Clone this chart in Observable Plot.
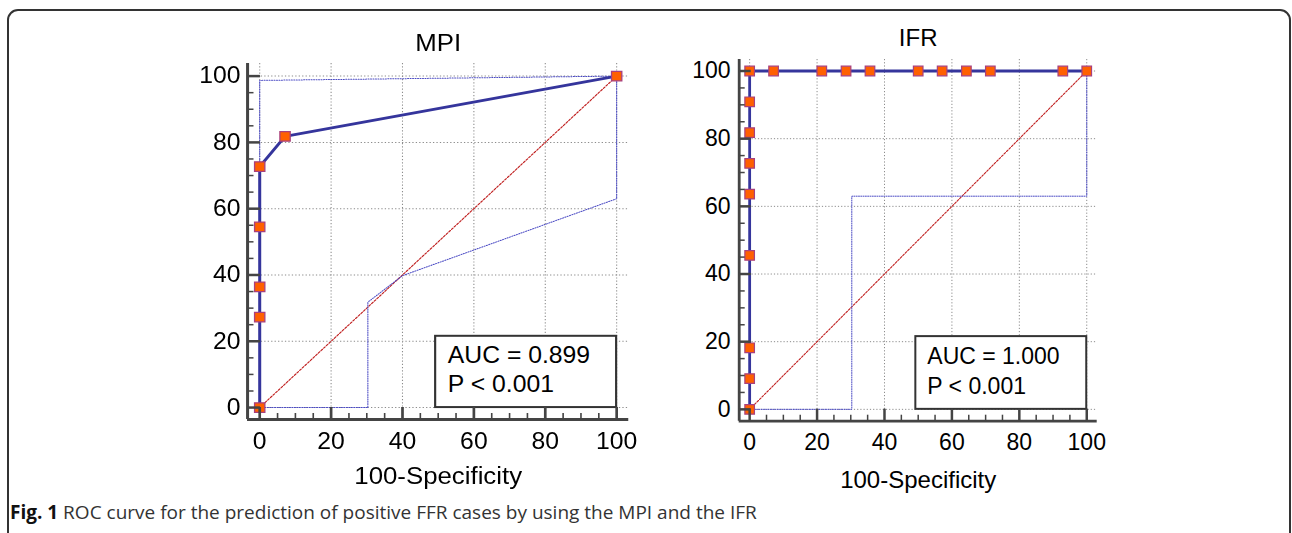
<!DOCTYPE html>
<html><head><meta charset="utf-8">
<script src="https://cdn.jsdelivr.net/npm/d3@7"></script>
<script src="https://cdn.jsdelivr.net/npm/@observablehq/plot@0.6"></script>
<style>
html,body{margin:0;padding:0;background:#fff;width:1292px;height:533px;overflow:hidden;position:relative;}
#frame{position:absolute;left:7px;top:9px;width:1284px;height:600px;border:2px solid #333;border-radius:11px;box-sizing:border-box;}
#left{position:absolute;left:180px;top:20px;transform-origin:0 0;transform:scaleX(1.076);}
#right{position:absolute;left:680px;top:15px;}
#caption{position:absolute;left:10px;top:501.6px;line-height:20px;font-family:"Open Sans",sans-serif;font-size:19px;color:#333;white-space:nowrap;}
#caption b{color:#111;}
</style></head>
<body>
<div id="frame"></div>
<div id="left"></div>
<div id="right"></div>
<div id="caption"><b>Fig. 1</b> ROC curve for the prediction of positive FFR cases by using the MPI and the IFR</div>
<script>
// ---- data ----
const majorTicks = [0, 20, 40, 60, 80, 100];
const minorTicks = [5, 10, 15, 25, 30, 35, 45, 50, 55, 65, 70, 75, 85, 90, 95];
const diagX = [0, 100];
const diagY = [0, 100];

const mpiFpr = [0, 0, 0, 0, 0, 7.1, 100];
const mpiTpr = [0, 27.3, 36.4, 54.5, 72.7, 81.8, 100];
const mpiUpperX = [0, 0, 100];
const mpiUpperY = [0, 98.7, 100];
const mpiLowerX = [0, 30.3, 30.3, 40, 100, 100];
const mpiLowerY = [0, 0, 31.8, 39.8, 63, 100];
const mpiLegend = ["AUC = 0.899", "P < 0.001"];

const ifrFpr = [0, 0, 0, 0, 0, 0, 0, 0, 0, 7.1, 21.4, 28.6, 35.7, 50, 57.1, 64.3, 71.4, 92.9, 100];
const ifrTpr = [0, 9.1, 18.2, 45.5, 63.6, 72.7, 81.8, 90.9, 100, 100, 100, 100, 100, 100, 100, 100, 100, 100, 100];
const ifrUpperX = [0, 0, 100];
const ifrUpperY = [0, 100, 100];
const ifrLowerX = [0, 30.3, 30.3, 100, 100];
const ifrLowerY = [0, 0, 63, 63, 100];
const ifrLegend = ["AUC = 1.000", "P < 0.001"];

// ---- drawing ----
const pts = (xs, ys) => xs.map((x, i) => ({x, y: ys[i]}));

function panel(o) {
  const roc = pts(o.fpr, o.tpr);
  const axisColor = "#444";
  const plotW = o.width - o.ml - o.mr;
  const plotH = o.height - o.mt - o.mb;
  const ky = (o.yd[1] - o.yd[0]) / plotH;   // data units per pixel (y)
  const kx = (o.xd[1] - o.xd[0]) / plotW;   // data units per pixel (x)
  const gridStyle = {stroke: "#8c8c8c", strokeOpacity: 1, strokeWidth: 1, strokeDasharray: "1.2,2"};
  const ciStyle = {x: "x", y: "y", stroke: "#4a4ac4", strokeWidth: 1, strokeDasharray: "1,1.3"};
  return Plot.plot({
    width: o.width, height: o.height,
    marginLeft: o.ml, marginRight: o.mr, marginTop: o.mt, marginBottom: o.mb,
    x: {domain: o.xd, axis: null, label: null},
    y: {domain: o.yd, axis: null, label: null},
    style: {fontFamily: "'Liberation Sans', Arial, sans-serif", fontSize: "22px", color: "#000", background: "transparent", overflow: "visible"},
    marks: [
      Plot.gridX(majorTicks, gridStyle),
      Plot.gridY(majorTicks, gridStyle),
      Plot.line(pts(diagX, diagY), {x: "x", y: "y", stroke: "#c02020", strokeWidth: 1.1, strokeDasharray: "2,1.5"}),
      Plot.line(pts(o.loX, o.loY), ciStyle),
      Plot.line(pts(o.upX, o.upY), ciStyle),
      Plot.line(roc, {x: "x", y: "y", stroke: "#35359c", strokeWidth: 2.8}),
      Plot.rect([0], {x1: 49.3, x2: 100, y1: 0, y2: 21.5, fill: "#fff", stroke: "#333", strokeWidth: 2}),
      Plot.text([o.legend[0]], {x: 52.7, y: 13.3, text: d => d, textAnchor: "start", lineAnchor: "bottom", fontSize: 23, fill: "#000"}),
      Plot.text([o.legend[1]], {x: 52.7, y: 4.6, text: d => d, textAnchor: "start", lineAnchor: "bottom", fontSize: 23, fill: "#000"}),
      Plot.dot(roc, {x: "x", y: "y", symbol: "square", r: 5.4, fill: "#ff6000", stroke: "#a8407e", strokeWidth: 1.2}),
      // axis lines
      Plot.ruleX([o.xd[0]], {stroke: axisColor, strokeWidth: 2.8}),
      Plot.ruleY([o.yd[0]], {stroke: axisColor, strokeWidth: 2.8}),
      // inward ticks
      Plot.ruleX(majorTicks, {x: d => d, y1: o.yd[0], y2: o.yd[0] + 12 * ky, stroke: axisColor, strokeWidth: 2.5}),
      Plot.ruleX(minorTicks, {x: d => d, y1: o.yd[0], y2: o.yd[0] + 6 * ky, stroke: axisColor, strokeWidth: 1.5}),
      Plot.ruleY(majorTicks, {y: d => d, x1: o.xd[0], x2: o.xd[0] + 12 * kx, stroke: axisColor, strokeWidth: 2.5}),
      Plot.ruleY(minorTicks, {y: d => d, x1: o.xd[0], x2: o.xd[0] + 6 * kx, stroke: axisColor, strokeWidth: 1.5}),
      // tick labels
      Plot.text(majorTicks, {x: d => d, y: o.yd[0], dy: o.xPad, text: d => String(d), lineAnchor: "top", fontSize: 23, fill: "#000"}),
      Plot.text(majorTicks, {y: d => d, x: o.xd[0], dx: -o.yPad, text: d => String(d), textAnchor: "end", lineAnchor: "middle", fontSize: 23, fill: "#000"}),
      // title and axis label
      Plot.text([o.title], {frameAnchor: "top", dy: o.titleDy, text: d => d, lineAnchor: "bottom", fontSize: 24, fill: "#000"}),
      Plot.text(["100-Specificity"], {frameAnchor: "bottom", dy: o.labelDy, text: d => d, lineAnchor: "bottom", fontSize: 24, fill: "#000"})
    ]
  });
}

document.getElementById("left").append(panel({
  title: "MPI", fpr: mpiFpr, tpr: mpiTpr, upX: mpiUpperX, upY: mpiUpperY, loX: mpiLowerX, loY: mpiLowerY, legend: mpiLegend,
  width: 437, height: 470, ml: 62.3, mr: 20.4, mt: 43, mb: 71,
  xd: [-3.4, 103.4], yd: [-3.6, 103.8], xPad: 13.5, yPad: 6.5, titleDy: -12.3, labelDy: 64
}));

document.getElementById("right").append(panel({
  title: "IFR", fpr: ifrFpr, tpr: ifrTpr, upX: ifrUpperX, upY: ifrUpperY, loX: ifrLowerX, loY: ifrLowerY, legend: ifrLegend,
  width: 440, height: 480, ml: 58.7, mr: 23.3, mt: 44, mb: 74.3,
  xd: [-3.1, 103.1], yd: [-3.5, 103.4], xPad: 12.3, yPad: 8.7, titleDy: -14, labelDy: 67
}));
</script>
</body></html>
